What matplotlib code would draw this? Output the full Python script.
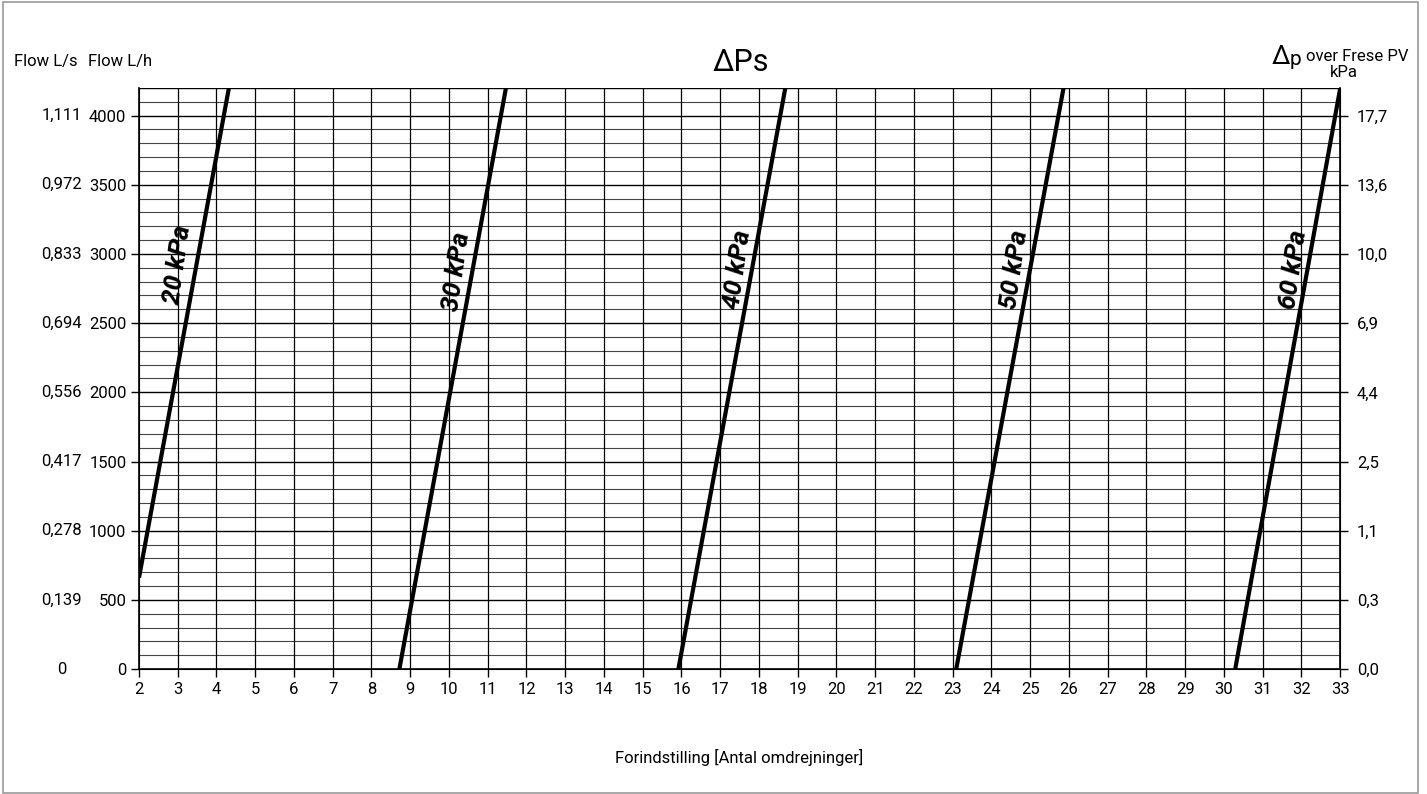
import matplotlib.pyplot as plt
import matplotlib.patches as mpatches
import numpy as np

plt.rcParams['font.family'] = ['Roboto', 'DejaVu Sans']

# x = Forindstilling [turns], y = flow L/h
CURVES = {
    '20 kPa': ([2.0, 4.32], [660, 4200]),
    '30 kPa': ([8.72, 11.47], [0, 4200]),
    '40 kPa': ([15.92, 18.68], [0, 4200]),
    '50 kPa': ([23.09, 25.86], [0, 4200]),
    '60 kPa': ([30.29, 33.0], [0, 4200]),
}
LABEL_POS = {
    '20 kPa': (3.0, 2920),
    '30 kPa': (10.2, 2870),
    '40 kPa': (17.45, 2890),
    '50 kPa': (24.6, 2890),
    '60 kPa': (31.8, 2890),
}

FLOW_LH = [0, 500, 1000, 1500, 2000, 2500, 3000, 3500, 4000]
FLOW_LS = ['0', '0,139', '0,278', '0,417', '0,556', '0,694', '0,833', '0,972', '1,111']
DP_KPA = ['0,0', '0,3', '1,1', '2,5', '4,4', '6,9', '10,0', '13,6', '17,7']
X_TICKS = list(range(2, 34))

FS = 12

fig = plt.figure(figsize=(14.27, 7.94), dpi=100)
ax = fig.add_axes([0.0974, 0.1574, 0.8418, 0.7318])

ax.set_xlim(2, 33)
ax.set_ylim(0, 4200)

# grid
for y in range(100, 4200, 100):
    major = (y % 500 == 0)
    ax.axhline(y, color='black' if major else '#444444',
               lw=1.0 if major else 0.8, zorder=1)
for x in X_TICKS[1:-1]:
    ax.axvline(x, color='black', lw=0.9, zorder=1)
ax.axhline(4200, color='black', lw=1.0, zorder=1)

for name, (xs, ys) in CURVES.items():
    ax.plot(xs, ys, color='black', lw=3.0, solid_capstyle='butt', zorder=3)
    lx, ly = LABEL_POS[name]
    ax.text(lx, ly, name, rotation=82, fontsize=19, fontweight='bold',
            style='italic', ha='center', va='center', zorder=4)

ax.set_xticks(X_TICKS)
ax.set_xticklabels([str(v) for v in X_TICKS], fontsize=FS)
ax.set_yticks(FLOW_LH)
ax.set_yticklabels([str(v) for v in FLOW_LH], fontsize=FS)
ax.tick_params(direction='out', length=6, width=1, color='black', pad=3)

ax.spines['top'].set_visible(False)
for s in ['left', 'right', 'bottom']:
    ax.spines[s].set_linewidth(1.2)

ax2 = ax.twinx()
ax2.set_ylim(0, 4200)
ax2.set_yticks(FLOW_LH)
ax2.set_yticklabels(DP_KPA, fontsize=FS)
ax2.tick_params(direction='out', length=6, width=1, color='black', pad=6)
ax2.spines['top'].set_visible(False)

# L/s column
trans = ax.get_yaxis_transform()
for v, lbl in zip(FLOW_LH, FLOW_LS):
    ax.text(-0.0645, v, lbl, transform=trans, ha='center', va='center', fontsize=FS)

ax.set_xlabel('Forindstilling [Antal omdrejninger]', fontsize=FS, labelpad=38)

fig.text(0.0098, 0.922, 'Flow L/s', fontsize=FS, ha='left', va='center')
fig.text(0.0617, 0.922, 'Flow L/h', fontsize=FS, ha='left', va='center')
fig.text(0.519, 0.921, 'ΔPs', fontsize=22, ha='center', va='center')
fig.text(0.891, 0.928, 'Δ', fontsize=19, ha='left', va='center')
fig.text(0.9035, 0.925, 'p', fontsize=15, ha='left', va='center')
fig.text(0.9155, 0.929, 'over Frese PV', fontsize=FS, ha='left', va='center')
fig.text(0.942, 0.909, 'kPa', fontsize=FS, ha='center', va='center')

fig.patches.append(mpatches.Rectangle((0.002, 0.001), 0.9915, 0.997,
                                      transform=fig.transFigure, fill=False,
                                      edgecolor='#999999', lw=1.2))

fig.savefig('out.png', dpi=100)
